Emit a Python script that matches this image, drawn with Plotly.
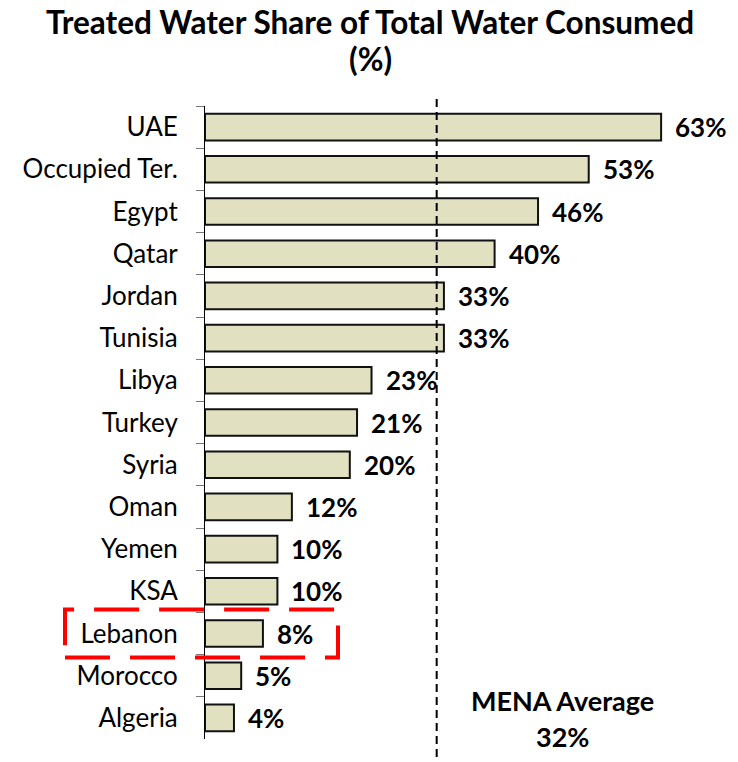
import plotly.graph_objects as go

countries = ["UAE", "Occupied Ter.", "Egypt", "Qatar", "Jordan", "Tunisia", "Libya",
             "Turkey", "Syria", "Oman", "Yemen", "KSA", "Lebanon", "Morocco", "Algeria"]
values = [63, 53, 46, 40, 33, 33, 23, 21, 20, 12, 10, 10, 8, 5, 4]
labels = ["63%", "53%", "46%", "40%", "33%", "33%", "23%", "21%", "20%", "12%",
          "10%", "10%", "8%", "5%", "4%"]
mena_average = 32
mena_label = ["MENA Average", "32%"]
highlight = "Lebanon"
title_lines = ["Treated Water Share of Total Water Consumed", "(%)"]

FONT = "Lato"
OFF = 0  # body margin removed via post_script
W, H = 738 - OFF, 762 - OFF
ML, MR, MT, MB = 205 - OFF, 5, 106 - OFF, 23
px_per_unit = 7.24
plot_w = W - ML - MR
plot_h = H - MT - MB
xmax = plot_w / px_per_unit


def py(page_y):
    return 1 - (page_y - OFF - MT) / plot_h


def px(page_x):
    return (page_x - OFF - ML) / plot_w


fig = go.Figure()
fig.add_trace(go.Bar(
    x=values, y=countries, orientation="h",
    marker=dict(color="#E1E0C1", line=dict(color="#111111", width=2)),
    width=0.63, hoverinfo="skip",
))

for c, v, t in zip(countries, values, labels):
    fig.add_annotation(x=v, y=c, xref="x", yref="y", text=f"<b>{t}</b>",
                       showarrow=False, xanchor="left", xshift=12,
                       font=dict(family=FONT, size=26, color="black"))

# MENA average dashed line
fig.add_shape(type="line", xref="x", yref="paper", x0=mena_average, x1=mena_average,
              y0=py(770), y1=py(97), line=dict(color="black", width=2, dash="8px,5px"))
for txt, yy in zip(mena_label, [700, 736]):
    fig.add_annotation(xref="paper", yref="paper", x=px(562), y=py(yy),
                       text=f"<b>{txt}</b>", showarrow=False,
                       xanchor="center", yanchor="middle",
                       font=dict(family=FONT, size=27, color="black"))

# title lines
for txt, yy in zip(title_lines, [22, 59]):
    fig.add_annotation(xref="paper", yref="paper", x=px(370), y=py(yy),
                       text=f"<b>{txt}</b>", showarrow=False,
                       xanchor="center", yanchor="middle",
                       font=dict(family=FONT, size=31.5, color="black"))

# highlight box
n = len(countries)
idx = countries.index(highlight)
yc = 1 - (idx + 0.5) / n
half = 0.57 / n
fig.add_shape(type="rect", xref="paper", yref="paper",
              x0=px(65), x1=px(338),
              y0=yc - half, y1=yc + half,
              line=dict(color="#FF0000", width=4, dash="45px,20px"))

fig.update_layout(
    template="none",
    width=W, height=H,
    margin=dict(l=ML, r=MR, t=MT, b=MB, autoexpand=False),
    plot_bgcolor="white", paper_bgcolor="white",
    showlegend=False,
    xaxis=dict(visible=False, range=[0, xmax], automargin=False),
    yaxis=dict(categoryorder="array", categoryarray=countries, autorange="reversed",
               automargin=False,
               showline=True, linecolor="black", linewidth=1,
               ticks="outside", tickson="boundaries", ticklen=8, tickcolor="#777777",
               ticklabelstandoff=21, showgrid=False,
               tickfont=dict(family=FONT, size=26, color="black")),
)

fig.write_html("out.html", config={"displayModeBar": False},
               post_script="document.body.style.margin='0';document.body.style.overflow='hidden';")
